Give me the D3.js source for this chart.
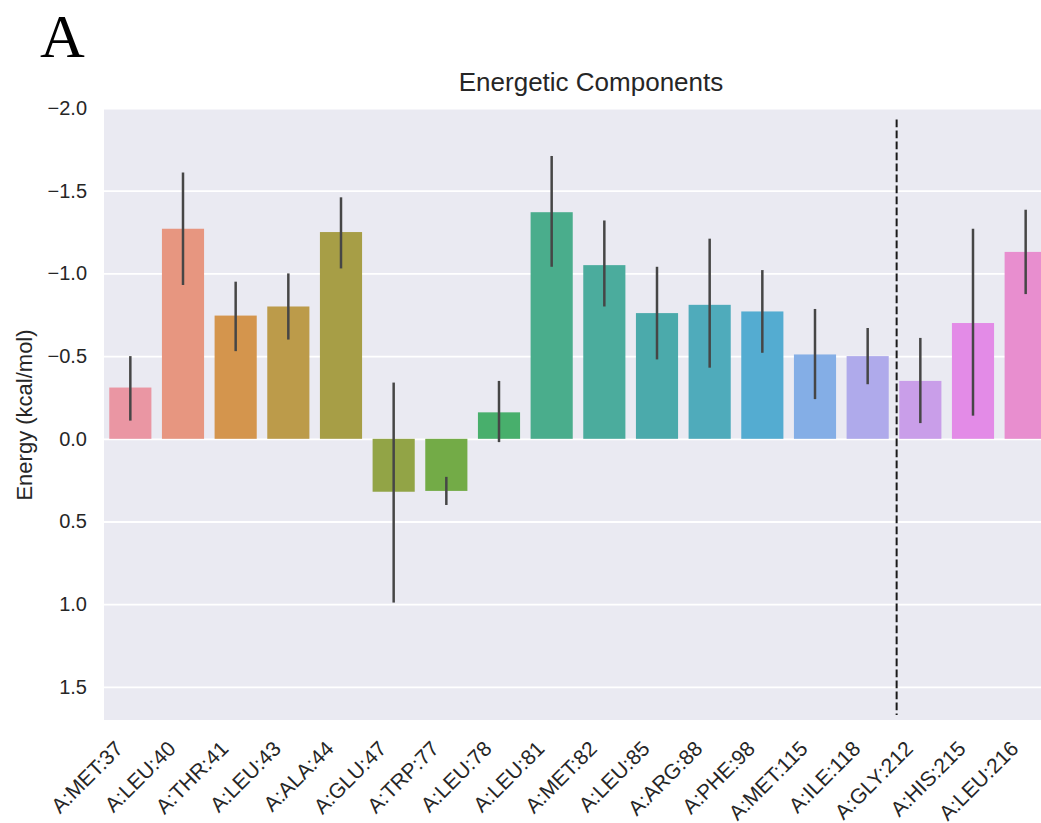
<!DOCTYPE html>
<html>
<head>
<meta charset="utf-8">
<script src="https://cdn.jsdelivr.net/npm/d3@7"></script>
<style>
  html, body { margin: 0; padding: 0; background: #ffffff; }
  svg { display: block; }
  text { font-family: "Liberation Sans", Arial, sans-serif; fill: #262626; }
</style>
</head>
<body>
<svg id="chart" width="1041" height="823"></svg>
<script>
// Per-residue energetic contributions (kcal/mol) with confidence intervals
const residues = ["A:MET:37", "A:LEU:40", "A:THR:41", "A:LEU:43", "A:ALA:44", "A:GLU:47",
  "A:TRP:77", "A:LEU:78", "A:LEU:81", "A:MET:82", "A:LEU:85", "A:ARG:88",
  "A:PHE:98", "A:MET:115", "A:ILE:118", "A:GLY:212", "A:HIS:215", "A:LEU:216"];
const energy = [-0.31, -1.27, -0.745, -0.80, -1.25, 0.32,
  0.315, -0.16, -1.37, -1.05, -0.76, -0.81,
  -0.77, -0.51, -0.50, -0.35, -0.70, -1.13];
const ciLow = [-0.50, -1.61, -0.95, -1.00, -1.46, -0.34,
  0.23, -0.35, -1.71, -1.32, -1.04, -1.21,
  -1.02, -0.785, -0.67, -0.61, -1.27, -1.385];
const ciHigh = [-0.11, -0.93, -0.53, -0.60, -1.03, 0.99,
  0.40, 0.02, -1.04, -0.80, -0.48, -0.43,
  -0.52, -0.24, -0.33, -0.095, -0.14, -0.875];
const yTicks = [-2.0, -1.5, -1.0, -0.5, 0.0, 0.5, 1.0, 1.5];
const separatorAt = 14.55;          // position between the two residue groups
const separatorSpan = [-1.93, 1.67];
const paletteSize = 19;             // number of hues the palette is spread over

// ---- HUSL colour helpers (as used by the seaborn "husl" palette) ----
const M = [[3.2406, -1.5372, -0.4986], [-0.9689, 1.8758, 0.0415], [0.0557, -0.2040, 1.0570]];
const refU = 0.19784, refV = 0.46834, kappa = 903.29630, epsilon = 0.0088564;
function maxChroma(L, H) {
  const hrad = H / 360 * 2 * Math.PI, sinH = Math.sin(hrad), cosH = Math.cos(hrad);
  const sub1 = Math.pow(L + 16, 3) / 1560896;
  const sub2 = sub1 > epsilon ? sub1 : L / kappa;
  let result = Infinity;
  for (const [m1, m2, m3] of M) {
    const top = (0.99915 * m1 + 1.05122 * m2 + 1.14460 * m3) * sub2;
    const rb = 0.86330 * m3 - 0.17266 * m2;
    const lb = 0.12949 * m3 - 0.38848 * m1;
    const bottom = (rb * sinH + lb * cosH) * sub2;
    for (const t of [0, 1]) {
      const C = L * (top - 1.05122 * t) / (bottom + 0.17266 * sinH * t);
      if (C > 0 && C < result) result = C;
    }
  }
  return result;
}
function fInv(t) { return Math.pow(t, 3) > epsilon ? Math.pow(t, 3) : (116 * t - 16) / kappa; }
function fromLinear(c) { return c <= 0.0031308 ? 12.92 * c : 1.055 * Math.pow(c, 1 / 2.4) - 0.055; }
function huslToRgb(H, S, L) {
  const C = maxChroma(L, H) / 100 * S;
  const hrad = H / 360 * 2 * Math.PI;
  const U = Math.cos(hrad) * C, V = Math.sin(hrad) * C;
  const Y = fInv((L + 16) / 116);
  const varU = U / (13 * L) + refU, varV = V / (13 * L) + refV;
  const X = 0 - (9 * Y * varU) / ((varU - 4) * varV - varU * varV);
  const Z = (9 * Y - 15 * varV * Y - varV * X) / (3 * varV);
  return M.map(r => Math.min(1, Math.max(0, fromLinear(r[0] * X + r[1] * Y + r[2] * Z))));
}
function rgbToHls([r, g, b]) {
  const mx = Math.max(r, g, b), mn = Math.min(r, g, b), l = (mx + mn) / 2;
  if (mx === mn) return [0, l, 0];
  const d = mx - mn;
  const s = l <= 0.5 ? d / (mx + mn) : d / (2 - mx - mn);
  const rc = (mx - r) / d, gc = (mx - g) / d, bc = (mx - b) / d;
  let h = r === mx ? bc - gc : g === mx ? 2 + rc - bc : 4 + gc - rc;
  h = ((h / 6) % 1 + 1) % 1;
  return [h, l, s];
}
function hlsToRgb(h, l, s) {
  if (s === 0) return [l, l, l];
  const m2 = l <= 0.5 ? l * (1 + s) : l + s - l * s, m1 = 2 * l - m2;
  const v = hue => {
    hue = ((hue % 1) + 1) % 1;
    if (hue < 1 / 6) return m1 + (m2 - m1) * hue * 6;
    if (hue < 0.5) return m2;
    if (hue < 2 / 3) return m1 + (m2 - m1) * (2 / 3 - hue) * 6;
    return m1;
  };
  return [v(h + 1 / 3), v(h), v(h - 1 / 3)];
}
function huslPalette(n, h = 0.01, s = 0.9, l = 0.7) {
  return d3.range(n).map(i => {
    const hue = ((i / n + h) % 1) * 359;
    return huslToRgb(hue, s * 99, l * 99);
  });
}
const rawColors = huslPalette(paletteSize).slice(0, residues.length);
const barColors = rawColors.map(c => {
  const [h, l, s] = rgbToHls(c);
  return hlsToRgb(h, l, s * 0.75);
});
const lum = d3.min(barColors, c => rgbToHls(c)[1]) * 0.6;
const errColor = d3.rgb(lum * 255, lum * 255, lum * 255).formatHex();
const toCss = c => d3.rgb(c[0] * 255, c[1] * 255, c[2] * 255).formatHex();

// ---- Layout ----
const plot = { left: 104, right: 1052, top: 108, bottom: 720 };
const svg = d3.select("#chart");

const x = d3.scaleBand()
  .domain(residues)
  .range([plot.left, plot.right])
  .paddingInner(0.2)
  .paddingOuter(0.1);
const xPos = v => plot.left + x.step() * (v + 0.5);   // continuous category coordinate

const y = d3.scaleLinear().domain([-2.0, 1.70]).range([plot.top, plot.bottom]);

// Panel letter
svg.append("text")
  .attr("x", 40).attr("y", 57)
  .style("font-family", '"Liberation Serif", "Times New Roman", serif')
  .style("font-size", "62px")
  .style("fill", "#000")
  .text("A");

// Axes background
svg.append("rect")
  .attr("x", plot.left).attr("y", plot.top)
  .attr("width", plot.right - plot.left).attr("height", plot.bottom - plot.top)
  .attr("fill", "#EAEAF2");

// Horizontal gridlines + y tick labels via an axis
const yAxis = d3.axisLeft(y)
  .tickValues(yTicks)
  .tickFormat(d3.format(".1f"))
  .tickSize(-(plot.right - plot.left))
  .tickPadding(17);
const gy = svg.append("g").attr("transform", `translate(${plot.left},0)`).call(yAxis);
gy.select(".domain").remove();
gy.selectAll(".tick line").attr("stroke", "#ffffff").attr("stroke-width", 1.8);
gy.selectAll(".tick text")
  .style("font-size", "20px")
  .style("fill", "#262626");

// Bars
svg.append("g").selectAll("rect")
  .data(residues)
  .join("rect")
  .attr("x", d => x(d))
  .attr("width", x.bandwidth())
  .attr("y", (d, i) => Math.min(y(energy[i]), y(0)))
  .attr("height", (d, i) => Math.abs(y(energy[i]) - y(0)))
  .attr("fill", (d, i) => toCss(barColors[i]));

// Error bars
svg.append("g").selectAll("line")
  .data(residues)
  .join("line")
  .attr("x1", d => x(d) + x.bandwidth() / 2)
  .attr("x2", d => x(d) + x.bandwidth() / 2)
  .attr("y1", (d, i) => y(ciLow[i]))
  .attr("y2", (d, i) => y(ciHigh[i]))
  .attr("stroke", errColor)
  .attr("stroke-width", 2.5);

// Group separator
svg.append("line")
  .attr("x1", xPos(separatorAt)).attr("x2", xPos(separatorAt))
  .attr("y1", y(separatorSpan[0])).attr("y2", y(separatorSpan[1]))
  .attr("stroke", "#1a1a1a")
  .attr("stroke-width", 2)
  .attr("stroke-dasharray", "7.7,3.3");

// X tick labels (rotated)
const xAxis = d3.axisBottom(x).tickSize(0).tickPadding(0);
const gx = svg.append("g").attr("transform", `translate(0,${plot.bottom})`).call(xAxis);
gx.select(".domain").remove();
gx.selectAll(".tick text")
  .attr("text-anchor", "end")
  .attr("dy", null)
  .attr("y", 0)
  .attr("transform", "translate(-6,30) rotate(-45)")
  .style("font-size", "21px")
  .style("fill", "#262626");

// Title
svg.append("text")
  .attr("x", 591).attr("y", 91)
  .attr("text-anchor", "middle")
  .style("font-size", "26px")
  .text("Energetic Components");

// Y axis label
svg.append("text")
  .attr("transform", `translate(32,415) rotate(-90)`)
  .attr("text-anchor", "middle")
  .style("font-size", "22px")
  .text("Energy (kcal/mol)");
</script>
</body>
</html>
